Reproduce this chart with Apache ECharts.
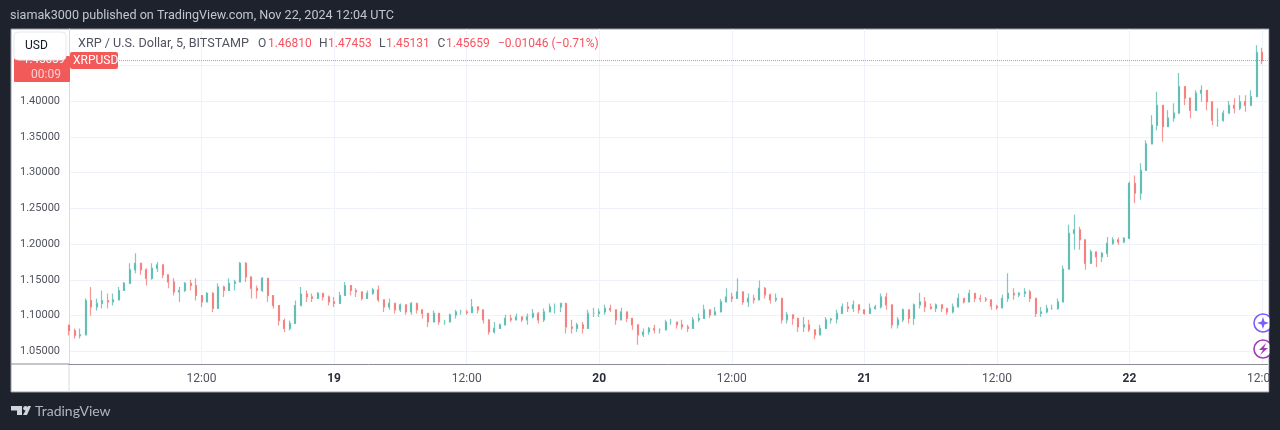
<!DOCTYPE html>
<html>
<head>
<meta charset="utf-8">
<style>html,body{margin:0;padding:0;background:#1e222d}#c{width:1280px;height:430px}</style>
<script src="https://cdn.jsdelivr.net/npm/echarts@6/dist/echarts.min.js"></script>
</head>
<body>
<div id="c"></div>
<script>
const opens = [
1.086,1.079,1.072,1.073,1.121,1.112,1.117,1.121,1.119,1.122,
1.135,1.145,1.164,1.173,1.164,1.152,1.166,1.171,1.157,1.147,
1.133,1.135,1.145,1.142,1.128,1.119,1.131,1.110,1.140,1.135,
1.145,1.147,1.173,1.154,1.138,1.135,1.152,1.128,1.114,1.093,
1.082,1.089,1.114,1.130,1.126,1.124,1.131,1.126,1.119,1.117,
1.128,1.142,1.135,1.133,1.124,1.131,1.136,1.122,1.112,1.117,
1.108,1.115,1.105,1.117,1.108,1.103,1.091,1.103,1.091,1.091,
1.101,1.105,1.105,1.104,1.112,1.108,1.094,1.077,1.082,1.087,
1.096,1.094,1.098,1.094,1.098,1.103,1.094,1.105,1.112,1.112,
1.117,1.084,1.082,1.087,1.082,1.103,1.103,1.105,1.110,1.108,
1.094,1.105,1.096,1.087,1.073,1.077,1.082,1.080,1.080,1.091,
1.091,1.087,1.084,1.082,1.094,1.096,1.108,1.101,1.105,1.119,
1.126,1.124,1.133,1.119,1.124,1.122,1.138,1.129,1.122,1.124,
1.094,1.101,1.096,1.084,1.087,1.080,1.073,1.082,1.094,1.095,
1.103,1.112,1.110,1.115,1.108,1.103,1.110,1.112,1.126,1.115,
1.087,1.094,1.108,1.096,1.115,1.119,1.112,1.110,1.115,1.110,
1.105,1.112,1.124,1.119,1.131,1.124,1.123,1.122,1.113,1.111,
1.124,1.131,1.129,1.131,1.133,1.124,1.103,1.105,1.110,1.110,
1.119,1.165,1.215,1.220,1.206,1.173,1.189,1.182,1.187,1.201,
1.206,1.203,1.208,1.285,1.271,1.303,1.340,1.366,1.394,1.364,
1.376,1.383,1.420,1.404,1.387,1.411,1.415,1.399,1.373,1.373,
1.383,1.394,1.390,1.399,1.394,1.406,1.4681];
const closes = [
1.079,1.072,1.073,1.121,1.112,1.117,1.121,1.119,1.122,1.135,
1.145,1.164,1.173,1.164,1.152,1.166,1.171,1.157,1.147,1.133,
1.135,1.145,1.142,1.128,1.119,1.131,1.110,1.140,1.135,1.145,
1.147,1.173,1.154,1.138,1.135,1.152,1.128,1.114,1.093,1.082,
1.089,1.114,1.130,1.126,1.124,1.131,1.126,1.119,1.117,1.128,
1.142,1.135,1.133,1.124,1.131,1.136,1.122,1.112,1.117,1.108,
1.115,1.105,1.117,1.108,1.103,1.091,1.103,1.091,1.091,1.101,
1.105,1.105,1.104,1.112,1.108,1.094,1.077,1.082,1.087,1.096,
1.094,1.098,1.094,1.098,1.103,1.094,1.105,1.112,1.112,1.117,
1.084,1.082,1.087,1.082,1.103,1.103,1.105,1.110,1.108,1.094,
1.105,1.096,1.087,1.073,1.077,1.082,1.080,1.080,1.091,1.091,
1.087,1.084,1.082,1.094,1.096,1.108,1.101,1.105,1.119,1.126,
1.124,1.133,1.119,1.124,1.122,1.138,1.129,1.122,1.124,1.094,
1.101,1.096,1.084,1.087,1.080,1.073,1.082,1.094,1.095,1.103,
1.112,1.110,1.115,1.108,1.103,1.110,1.112,1.126,1.115,1.087,
1.094,1.108,1.096,1.115,1.119,1.112,1.110,1.115,1.110,1.105,
1.112,1.124,1.119,1.131,1.124,1.123,1.122,1.113,1.111,1.124,
1.131,1.129,1.131,1.133,1.124,1.103,1.105,1.110,1.110,1.119,
1.165,1.215,1.220,1.206,1.173,1.189,1.182,1.187,1.201,1.206,
1.203,1.208,1.285,1.271,1.303,1.340,1.366,1.394,1.364,1.376,
1.383,1.420,1.404,1.387,1.411,1.415,1.399,1.373,1.373,1.383,
1.394,1.390,1.399,1.394,1.406,1.468,1.45659];
const highs = [
1.088,1.082,1.082,1.124,1.140,1.124,1.135,1.131,1.131,1.140,
1.147,1.173,1.187,1.171,1.166,1.173,1.175,1.171,1.157,1.152,
1.140,1.147,1.150,1.152,1.128,1.133,1.133,1.145,1.142,1.152,
1.150,1.175,1.175,1.147,1.142,1.154,1.152,1.128,1.114,1.096,
1.093,1.121,1.140,1.135,1.131,1.133,1.131,1.128,1.126,1.133,
1.147,1.140,1.138,1.130,1.135,1.139,1.142,1.122,1.124,1.117,
1.117,1.115,1.119,1.117,1.105,1.103,1.107,1.098,1.094,1.103,
1.108,1.108,1.108,1.123,1.112,1.103,1.091,1.091,1.089,1.101,
1.101,1.103,1.098,1.103,1.109,1.105,1.110,1.117,1.117,1.118,
1.117,1.094,1.090,1.091,1.108,1.111,1.110,1.115,1.115,1.108,
1.111,1.103,1.096,1.082,1.082,1.084,1.087,1.082,1.094,1.095,
1.091,1.094,1.087,1.098,1.103,1.115,1.108,1.112,1.123,1.138,
1.132,1.152,1.129,1.131,1.129,1.149,1.140,1.131,1.131,1.122,
1.105,1.098,1.094,1.098,1.094,1.080,1.087,1.098,1.097,1.108,
1.117,1.119,1.121,1.110,1.108,1.117,1.115,1.131,1.132,1.108,
1.098,1.110,1.108,1.117,1.132,1.126,1.117,1.117,1.115,1.110,
1.117,1.131,1.124,1.136,1.131,1.129,1.126,1.119,1.115,1.129,
1.159,1.138,1.133,1.138,1.136,1.117,1.112,1.115,1.115,1.124,
1.170,1.227,1.241,1.224,1.206,1.192,1.189,1.189,1.210,1.210,
1.209,1.210,1.287,1.296,1.313,1.345,1.380,1.413,1.380,1.387,
1.397,1.439,1.420,1.394,1.415,1.422,1.406,1.399,1.390,1.387,
1.400,1.404,1.408,1.408,1.415,1.478,1.47453];
const lows = [
1.072,1.068,1.068,1.073,1.100,1.107,1.110,1.110,1.114,1.121,
1.135,1.145,1.159,1.157,1.142,1.150,1.161,1.152,1.138,1.128,
1.119,1.133,1.135,1.121,1.112,1.119,1.105,1.110,1.126,1.135,
1.135,1.147,1.147,1.124,1.124,1.133,1.119,1.110,1.086,1.077,
1.079,1.098,1.119,1.119,1.119,1.124,1.121,1.114,1.112,1.117,
1.128,1.128,1.126,1.121,1.124,1.129,1.119,1.105,1.108,1.103,
1.105,1.101,1.101,1.103,1.096,1.084,1.091,1.087,1.087,1.091,
1.096,1.101,1.101,1.104,1.103,1.089,1.073,1.075,1.082,1.087,
1.091,1.094,1.091,1.087,1.096,1.089,1.091,1.105,1.103,1.105,
1.075,1.075,1.077,1.075,1.082,1.098,1.098,1.101,1.105,1.087,
1.094,1.091,1.080,1.059,1.070,1.073,1.075,1.075,1.080,1.087,
1.082,1.080,1.077,1.082,1.091,1.101,1.097,1.101,1.105,1.119,
1.119,1.131,1.115,1.112,1.117,1.122,1.124,1.117,1.119,1.089,
1.089,1.087,1.077,1.077,1.077,1.067,1.073,1.089,1.089,1.089,
1.103,1.105,1.105,1.103,1.101,1.103,1.108,1.110,1.108,1.082,
1.082,1.091,1.089,1.087,1.110,1.105,1.108,1.105,1.105,1.101,
1.103,1.112,1.117,1.119,1.119,1.119,1.119,1.108,1.108,1.110,
1.119,1.122,1.126,1.126,1.119,1.098,1.098,1.103,1.108,1.108,
1.119,1.165,1.192,1.192,1.164,1.173,1.168,1.175,1.182,1.199,
1.199,1.201,1.208,1.257,1.262,1.303,1.340,1.359,1.343,1.364,
1.371,1.383,1.394,1.376,1.387,1.399,1.387,1.366,1.364,1.371,
1.383,1.383,1.387,1.385,1.394,1.406,1.45131];
const priceTicks = [1.05,1.10,1.15,1.20,1.25,1.30,1.35,1.40,1.45];
const timeTicks = {24:"12:00",48:"19",72:"12:00",96:"20",120:"12:00",144:"21",168:"12:00",192:"22",216:"12:00"};
const categories = Array.from({length:218},(_,i)=>String(i));
const lastPrice = 1.45659;
const header = "XRP / U.S. Dollar, 5, BITSTAMP";
const title = "siamak3000 published on TradingView.com, Nov 22, 2024 12:04 UTC";

const FONT = "Roboto, 'Liberation Sans', sans-serif";
const GREY = "#50535e", RED = "#f7525f", DARK = "#1e222d";
const candleData = closes.map((c,i)=>[opens[i],c,lows[i],highs[i]]);
const isTick = i => (i in timeTicks);
const txt = (x,y,text,fill,size,extra) => Object.assign({type:"text",x,y,z:50,style:{text,fill,font:`${size||12}px ${FONT}`,textVerticalAlign:"middle"}},extra||{});
const chart = echarts.init(document.getElementById("c"),null,{renderer:"canvas"});
chart.setOption({
  animation:false,
  backgroundColor:DARK,
  grid:{left:69,right:11,top:29,bottom:66,containLabel:false},
  xAxis:{type:"category",data:categories,boundaryGap:false,
    axisLine:{show:true,lineStyle:{color:"#8a8d96",width:1}},axisTick:{show:false},
    splitLine:{show:true,interval:i=>isTick(i),lineStyle:{color:"#eff2f8",width:1}},
    axisLabel:{show:true,interval:i=>isTick(i),margin:9,color:GREY,fontFamily:FONT,fontSize:12,
      formatter:(v)=>{const t=timeTicks[v]||"";return t.length===2?`{b|${t}}`:t;},
      rich:{b:{fontWeight:"bold",color:"#2a2e39",fontSize:12,fontFamily:FONT}}}},
  yAxis:{type:"value",min:1.03224,max:1.5007,position:"left",
    axisLine:{show:true,lineStyle:{color:"#d9dbe0",width:1}},
    axisTick:{show:false,customValues:priceTicks},
    splitLine:{show:true,lineStyle:{color:"#eff2f8",width:1}},
    axisLabel:{customValues:priceTicks,margin:9,color:GREY,fontFamily:FONT,fontSize:11,formatter:v=>v.toFixed(5)}},
  series:[
    {type:"line",data:categories.map(()=>lastPrice),symbol:"none",silent:true,z:1,
      lineStyle:{color:"#f7525f",type:"dotted",width:1,opacity:0.75}},
    {type:"candlestick",data:candleData,barWidth:1.5,clip:true,z:2,
      itemStyle:{color:"#26a69a",color0:"#ef5350",borderColor:"#26a69a",borderColor0:"#ef5350",borderWidth:1.2,opacity:0.6}}
  ],
  graphic:{elements:[
    {type:"rect",z:-1,shape:{x:11,y:29,width:1258,height:363},style:{fill:"#fff",stroke:"#9a9ca4",lineWidth:1}},
    {type:"line",z:-1,shape:{x1:69,y1:364,x2:69,y2:392},style:{stroke:"#d9dbe0",lineWidth:1}},
    {type:"line",z:-1,shape:{x1:11,y1:364,x2:69,y2:364},style:{stroke:"#8a8d96",lineWidth:1}},
    txt(10,16,title,"#c3c6ce",12.6),
    txt(78,44,header,GREY,12.6),
    txt(258,44,"O",GREY,12),txt(268,44,"1.46810",RED,12),
    txt(319,44,"H",GREY,12),txt(328,44,"1.47453",RED,12),
    txt(379,44,"L",GREY,12),txt(386,44,"1.45131",RED,12),
    txt(437.5,44,"C",GREY,12),txt(446,44,"1.45659",RED,12),
    txt(498,44,"\u22120.01046 (\u22120.71%)",RED,12),
    {type:"rect",z:40,shape:{x:14,y:56,width:56,height:26,r:1},style:{fill:"#f25a5a"}},
    txt(23,60,"1.45659","#fff",11.5,{z:41}),
    txt(31,74.5,"00:09","#fbd0d0",12,{z:41}),
    {type:"rect",z:45,shape:{x:14,y:32,width:52,height:28,r:4},style:{fill:"#fff",stroke:"#e6e8ee",lineWidth:1}},
    txt(25,45.5,"USD","#131722",12,{z:46}),
    {type:"rect",z:42,shape:{x:70,y:52,width:48,height:17,r:2},style:{fill:"#f25a5a"}},
    txt(73,60.5,"XRPUSD","#fff",12,{z:43}),
    {type:"circle",z:60,shape:{cx:1263,cy:323,r:9},style:{fill:"#fff",stroke:"#7c5cff",lineWidth:1.6}},
    {type:"polygon",z:61,shape:{points:[[1263,317],[1264.5,321.5],[1269,323],[1264.5,324.5],[1263,329],[1261.5,324.5],[1257,323],[1261.5,321.5]]},style:{fill:"#7c5cff"}},
    {type:"circle",z:60,shape:{cx:1263,cy:349,r:9},style:{fill:"#fff",stroke:"#a23cb8",lineWidth:1.6}},
    {type:"polygon",z:61,shape:{points:[[1266,343],[1259,350],[1263,350],[1260,355],[1268,348],[1264,348]]},style:{fill:"#a23cb8"}},
    {type:"rect",z:90,shape:{x:1269.5,y:0,width:11,height:430},style:{fill:DARK}},
    {type:"polygon",z:91,shape:{points:[[11,406],[22,406],[22,415],[17,415],[17,410.5],[11,410.5]]},style:{fill:"#d1d4dc"}},
    {type:"circle",z:91,shape:{cx:25.5,cy:408.3,r:2.3},style:{fill:"#d1d4dc"}},
    {type:"polygon",z:91,shape:{points:[[23,415],[28,406],[31,406],[27,415]]},style:{fill:"#d1d4dc"}},
    {type:"text",z:91,x:35,y:411.5,style:{text:"TradingView",fill:"#b2b5be",font:"14px Lato, sans-serif",textVerticalAlign:"middle"}}
  ]}
});
</script>
</body>
</html>
